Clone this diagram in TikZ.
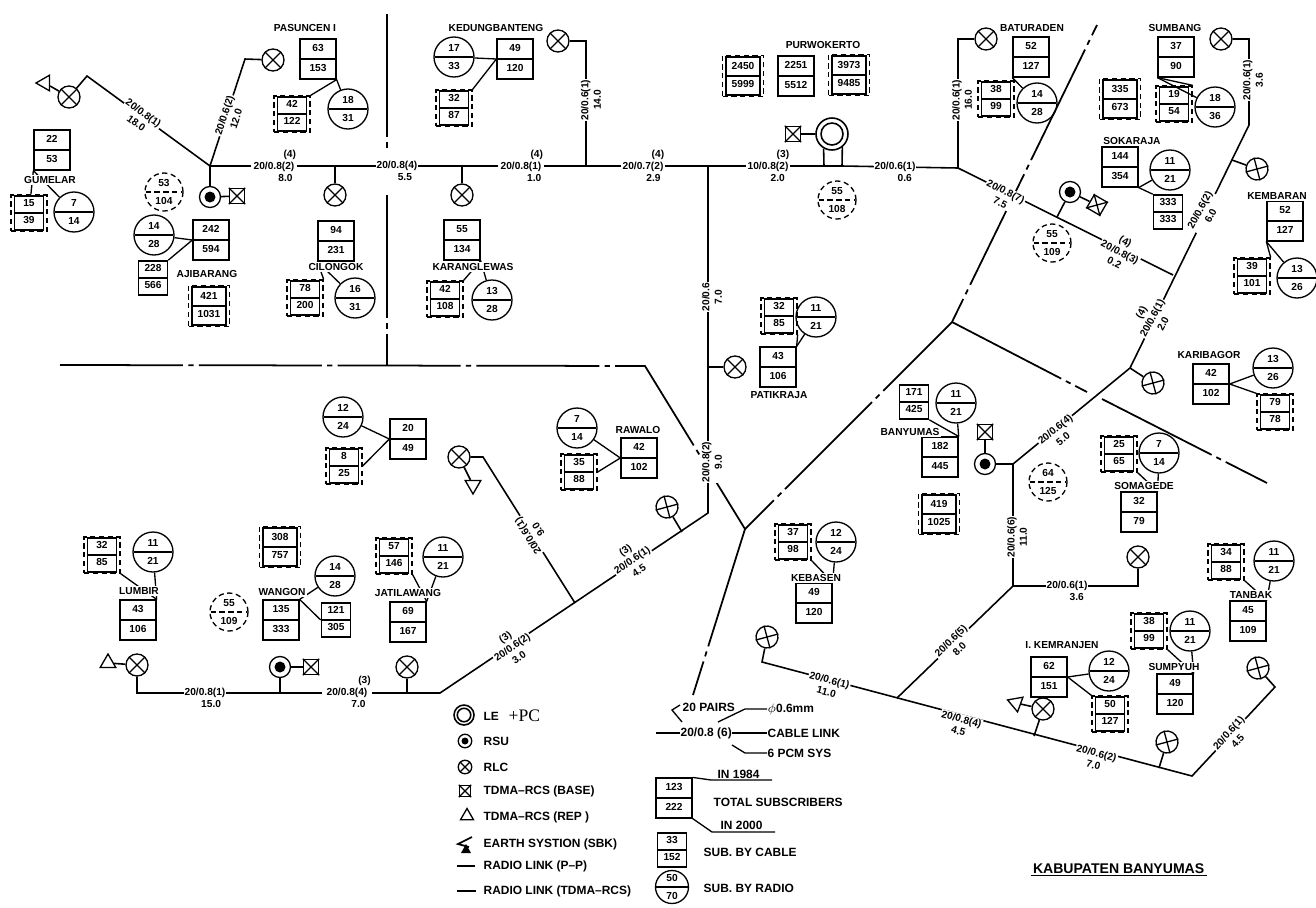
\documentclass[tikz,border=0pt]{standalone}
\usepackage{fontspec}
\setmainfont{Liberation Sans}
\newfontfamily\serifpc{Liberation Serif}
\usepackage{tikz}
\usetikzlibrary{shapes.geometric,shapes.multipart}
\newcommand{\upperpart}[1]{\rule[-2.6pt]{0pt}{7pt}#1}
\newcommand{\lowerpart}[1]{\rule[-1pt]{0pt}{8pt}#1}
\tikzset{
  numfont/.style={font=\bfseries\fontsize{5.8}{7}\selectfont},
  subbox/.style={numfont,draw,rectangle split,rectangle split parts=2,inner xsep=0pt,inner ysep=1.8pt,text width=.72cm,align=center},
  subsmall/.style={subbox,inner ysep=.9pt,text width=.58cm,line width=.9pt},
  sublarge/.style={subbox,inner ysep=1.5pt,text width=.68cm},
  dashouter/.style={draw,dash pattern=on 3pt off 2pt,minimum size=.72cm,inner sep=0pt},
  dashlarge/.style={dashouter,minimum size=.82cm},
  radiocirc/.style={numfont,draw,circle split,inner sep=0pt,minimum size=.8cm},
  lecirc/.style={radiocirc,dash pattern=on 3pt off 2pt,minimum size=.76cm},
  rlc/.style={draw,circle,inner sep=0pt,minimum size=.44cm},
  rsu/.style={draw,circle,inner sep=0pt,minimum size=.42cm},
  basesq/.style={draw,inner sep=0pt,minimum size=.3cm},
  rep/.style={draw,regular polygon,regular polygon sides=3,inner sep=0pt,minimum size=.36cm},
  placename/.style={numfont,fill=white,inner sep=.6pt},
  linklab/.style={numfont,fill=white,inner sep=.6pt,align=center},
  legtext/.style={font=\bfseries\fontsize{6.8}{8}\selectfont,anchor=west,inner sep=0pt},
  trunk/.style={line width=.9pt},
  boundary/.style={line width=1pt,dash pattern=on 70pt off 3pt on 3pt off 3pt},
}
\begin{document}
\begin{tikzpicture}[x=0.02cm,y=-0.02cm,line width=.75pt]
  \useasboundingbox (0,0) rectangle (1316,907);
  % total subscriber boxes
  \foreach \nm/\xx/\yy/\up/\lo in {pasbox/318/59/63/153,gumbox/52/150/22/53,ajibox/211/240/242/594,cilbox/336/241/94/231,
    klbox/462/240/55/134,kedbox/515/59/49/120,purbox/796/76/2251/5512,batbox/1031/57/52/127,sumbox/1176/57/37/90,
    sokbox/1120/167/144/354,kembox/1285/221/52/127,patbox/778/367/43/106,rawbox/639/458/42/102,grpbox/408/439/20/49,
    lumbox/138/620/43/106,wanbox/281/620/135/333,jatbox/408/622/69/167,kebbox/814/603/49/120,banbox/940/457/182/445,
    karbox/1211/384/42/102,sombox/1139/512/32/79,tanbox/1248/621/45/109,spybox/1175/694/49/120,kmrbox/1049/677/62/151,
    legbox/674/798/123/222}{
    \node[subbox] (\nm) at (\xx,\yy) {\strut\up\nodepart{two}\strut\lo};
  }
  % sub. by cable, no dashes
  \foreach \nm/\xx/\yy/\up/\lo in {ajicab/153/278/228/566,wancab/336/620/121/305,sokcab/1168/212/333/333,bancab/914/402/171/425,
    legcab/672/850/33/152}{
    \node[subsmall] (\nm) at (\xx,\yy) {\strut\up\nodepart{two}\strut\lo};
  }
  % sub. by cable inside a dashed frame
  \foreach \nm/\xx/\yy/\up/\lo in {gumdash/29/213/15/39,pasdash/292/114/42/122,cildash/305/298/78/200,kldash/445/299/42/108,
    keddash/454/108/32/87,batdash/996/99/38/99,sumdash/1174/104/19/54,kemdash/1252/276/39/101,patdash/779/316/32/85,
    rawdash/579/472/35/88,grpdash/344/466/8/25,lumdash/102/555/32/85,jatdash/394/556/57/146,kebdash/793/542/37/98,
    kardash/1275/412/79/78,somdash/1119/454/25/65,tandash/1226/562/34/88,spydash/1149/631/38/99,kmrdash/1110/714/50/127}{
    \node[dashouter] (\nm) at (\xx,\yy) {};
    \node[subsmall] at (\xx,\yy) {\strut\up\nodepart{two}\strut\lo};
  }
  \foreach \nm/\xx/\yy/\up/\lo in {ajilarge/209/306/421/1031,purlarge/743/76/2450/5999,purlargeb/849/75/3973/9485,
    sumlarge/1120/99/335/673,wanlarge/280/547/308/757,banlarge/939/514/419/1025}{
    \node[dashlarge] (\nm) at (\xx,\yy) {};
    \node[sublarge] at (\xx,\yy) {\strut\up\nodepart{two}\strut\lo};
  }
  % sub. by radio
  \foreach \nm/\xx/\yy/\up/\lo in {gumrad/74/212/7/14,pasrad/348/109/18/31,ajirad/154/235/14/28,cilrad/355/298/16/31,
    klrad/492/300/13/28,kedrad/454/57/17/33,batrad/1037/103/14/28,sumrad/1215/107/18/36,sokrad/1170/170/11/21,
    kemrad/1297/278/13/26,patrad/816/317/11/21,rawrad/577/428/7/14,grprad/343/417/12/24,lumrad/153/552/11/21,
    wanrad/335/576/14/28,jatrad/443/557/11/21,kebrad/836/542/12/24,banrad/956/403/11/21,karrad/1273/368/13/26,
    somrad/1159/453/7/14,tanrad/1274/561/11/21,spyrad/1190/631/11/21,kmrrad/1109/671/12/24}{
    \node[radiocirc] (\nm) at (\xx,\yy) {\upperpart{\up}\nodepart{lower}\lowerpart{\lo}};
  }
  \node[radiocirc,minimum size=.66cm] (legrad) at (672,887) {\upperpart{50}\nodepart{lower}\lowerpart{70}};
  % dashed LE circles
  \foreach \nm/\xx/\yy/\up/\lo in {lcaji/164/192/53/104,lcpur/837/200/55/108,lcsok/1052/243/55/109,lcwan/229/612/55/109,lcban/1048/482/64/125}{
    \node[lecirc] (\nm) at (\xx,\yy) {\upperpart{\up}\nodepart{lower}\lowerpart{\lo}};
  }
  % box to box and box to circle
  \foreach \from/\to in {gumbox.south west/gumdash,gumbox.south west/gumrad,pasbox.south east/pasdash.north east,pasbox.south east/pasrad,
    ajibox.west/ajirad,ajibox.west/ajicab.north east,cilbox.south west/cildash.north east,cilbox.south west/cilrad,
    klbox.south east/kldash.north east,klbox.south east/klrad,kedbox.west/kedrad,kedbox.west/keddash.north east,
    batbox.south west/batdash.north east,batbox.south west/batrad,sumbox.south west/sumdash.north east,sumbox.south west/sumrad,
    sokbox.south east/sokrad,sokbox.south east/sokcab.north west,kembox.south west/kemdash.north east,kembox.south west/kemrad,
    patbox.north east/patdash.south east,patbox.north east/patrad,rawbox.west/rawrad,rawbox.west/rawdash.east,
    grpbox.west/grprad,grpbox.west/grpdash.east,lumbox.north east/lumdash.south east,lumbox.north east/lumrad,
    wanbox.north east/wanrad,wanbox.north east/wancab.west,jatbox.north east/jatdash.south east,jatbox.north east/jatrad,
    kebbox.north east/kebdash.south east,kebbox.north east/kebrad,banbox.north east/bancab.south east,banbox.north east/banrad,
    karbox.east/karrad,karbox.east/kardash.north west,sombox.north east/somdash.south east,sombox.north east/somrad,
    tanbox.north east/tandash.south east,tanbox.north east/tanrad,spybox.north east/spydash.south east,spybox.north east/spyrad,
    kmrbox.east/kmrrad,kmrbox.east/kmrdash.north west}{
    \draw (\from) -- (\to);
  }
  % exchange symbols
  \node[draw,circle,minimum size=.64cm,inner sep=0pt,line width=.9pt] (lemain) at (832,134) {};
  \node[draw,circle,minimum size=.44cm,inner sep=0pt,line width=.9pt] at (832,134) {};
  \foreach \nm/\xx/\yy/\ang in {rlcgum/69/97/0,rlcpas/273/60/0,rlccil/335/195/0,rlckl/462/195/0,rlcked/558/41/0,rlcpat/735/367/0,
    rlclum/137/665/0,rlcjat/407/667/0,rlcgun/667/507/60,rlcrau/459/457/0,rlcbat/986/39/0,rlcsum/1221/39/0,rlckem/1257/169/60,
    rlckrb/1153/383/60,rlcsom/1138/557/0,rlckeb/767/637/60,rlcend/1258/668/60,rlcrep/1043/709/0,rlctam/1167/742/60}{
    \node[rlc,rotate=\ang] (\nm) at (\xx,\yy) {};
    \draw (\nm.north west) -- (\nm.south east) (\nm.north east) -- (\nm.south west);
  }
  \foreach \nm/\xx/\yy in {rsuaji/210/197,rsuwan/280/667,rsusok/1070/192,rsuban/985/464}{
    \node[rsu] (\nm) at (\xx,\yy) {};
    \fill (\nm) circle (5.5);
  }
  \foreach \nm/\xx/\yy/\ang in {baseaji/237/196/0,baselem/793/134/0,basewan/311/667/0,basesok/1097/205/-30,baseban/985/432/0}{
    \node[basesq,rotate=\ang] (\nm) at (\xx,\yy) {};
    \draw (\nm.north west) -- (\nm.south east) (\nm.north east) -- (\nm.south west);
  }
  \foreach \nm/\xx/\yy/\ang in {repgum/45/83/90,replum/108/663/0,reprau/473/485/180,reprep/1016/703/70}{
    \node[rep,rotate=\ang] (\nm) at (\xx,\yy) {};
  }
  % junctions and bends
  \foreach \nm/\xx/\yy in {jaji/210/166,bgum/87/76,bpas/245/59,jcil/335/166,jkl/462/166,jked/586/166,bked/586/41,jpat/708/166,
    jlel/824/166,jler/842/166,jbat/958/168,bbat/958/39,jkar/1173/275,bsum/1249/39,bsumb/1249/125,jkem/1232/160,jkrb/1130/368,
    jban/1013/464,jbanb/1013/586,bsom/1138/586,jkmr/897/698,bkeb/762/662,jrep/1034/736,jtam/1159/768,bend/1192/776,bendb/1275/687,
    jsok/1057/217,jpatr/708/367,bpat/708/513,jgun/682/532,jrau/575/603,brau/483/457,bbot/440/693,bbotb/137/693,jwan/280/693,jjat/407/693,
    bl1/387/14,bl1a/387/150,bl1b/387/195,bl2/387/365,bl3/60/365,bl4/645/366,bl5/745/529,bl6/952/322,bl7/1097/25,
    bl8/1267/483,bl8a/1087/392,bl8b/1102/399,bl9/693/695}{
    \coordinate (\nm) at (\xx,\yy);
  }
  % boundaries
  \draw[boundary] (bl1) -- (bl1a) (bl1b) -- (bl2);
  \draw[boundary] (bl3) -- (bl4) -- (bl5) -- (bl6) -- (bl7);
  \draw[boundary] (bl6) -- (bl8a) (bl8b) -- (bl8);
  \draw[boundary] (bl5) -- (bl9);
  % cable links
  \draw[trunk] (repgum) -- (rlcgum) -- (bgum) -- (jaji) -- (bpas) -- (rlcpas);
  \draw[trunk] (jaji) -- (rsuaji) -- (baseaji);
  \draw[trunk] (jaji) -- (jler) -- (jbat) -- (jkar);
  \draw[trunk] (jlel) -- (lemain.240) (jler) -- (lemain.-52) (lemain) -- (baselem);
  \draw[trunk] (jcil) -- (rlccil);
  \draw[trunk] (jkl) -- (rlckl);
  \draw[trunk] (jked) -- (bked) -- (rlcked);
  \draw[trunk] (jbat) -- (bbat) -- (rlcbat);
  \draw[trunk] (rlcsum) -- (bsum) -- (bsumb) -- (jkrb) -- (jban) -- (jbanb) -- (bsom) -- (rlcsom);
  \draw[trunk] (jkem) -- (rlckem);
  \draw[trunk] (jkrb) -- (rlckrb);
  \draw[trunk] (jban) -- (rsuban) -- (baseban);
  \draw[trunk] (jsok) -- (rsusok) -- (basesok);
  \draw[trunk] (jbanb) -- (jkmr);
  \draw[trunk] (rlckeb) -- (bkeb) -- (bend) -- (bendb) -- (rlcend);
  \draw[trunk] (jrep) -- (rlcrep) -- (reprep);
  \draw[trunk] (jtam) -- (rlctam);
  \draw[trunk] (jpat) -- (bpat) -- (bbot) -- (bbotb) -- (rlclum) -- (replum);
  \draw[trunk] (jpatr) -- (rlcpat);
  \draw[trunk] (jgun) -- (rlcgun);
  \draw[trunk] (jrau) -- (brau) -- (rlcrau) -- (reprau);
  \draw[trunk] (jwan) -- (rsuwan) -- (basewan);
  \draw[trunk] (jjat) -- (rlcjat);
  % link labels
  \node[linklab,rotate=-36] (lab1) at (140,118) {20/0.8(1)\\18.0};
  \node[linklab,rotate=72] (lab2) at (230,117) {20/0.6(2)\\12.0};
  \node[linklab] (lab3) at (274,166) {\hspace*{18pt}(4)\\20/0.8(2)\\\hspace*{13pt}8.0};
  \node[linklab] (lab4) at (397,171) {20/0.8(4)\\\hspace*{9pt}5.5};
  \node[linklab] (lab5) at (521,166) {\hspace*{18pt}(4)\\20/0.8(1)\\\hspace*{15pt}1.0};
  \node[linklab,rotate=90] (lab6) at (591,100) {20/0.6(1)\\14.0};
  \node[linklab] (lab7) at (643,166) {\hspace*{17pt}(4)\\20/0.7(2)\\\hspace*{12pt}2.9};
  \node[linklab] (lab8) at (768,166) {\hspace*{17pt}(3)\\10/0.8(2)\\\hspace*{11pt}2.0};
  \node[linklab] (lab9) at (895,172) {20/0.6(1)\\\hspace*{11pt}0.6};
  \node[linklab,rotate=90] (lab10) at (962,100) {20/0.6(1)\\16.0};
  \node[linklab,rotate=-27] (lab11) at (1003,197) {20/0.8(7)\\7.5};
  \node[linklab,rotate=-27] (lab12) at (1120,252) {(4)\\20/0.8(3)\\0.2};
  \node[linklab,rotate=90] (lab13) at (1253,80) {20/0.6(1)\\3.6};
  \node[linklab,rotate=62] (lab14) at (1205,213) {20/0.6(2)\\6.0};
  \node[linklab,rotate=62] (lab15) at (1152,318) {(4)\\20/0.6(1)\\2.0};
  \node[linklab,rotate=39] (lab16) at (1059,434) {20/0.6(4)\\5.0};
  \node[linklab,rotate=90] (lab17) at (1017,537) {20/0.6(6)\\11.0};
  \node[linklab] (lab18) at (1067,591) {20/0.6(1)\\\hspace*{11pt}3.6};
  \node[linklab,rotate=45] (lab19) at (955,645) {20/0.6(5)\\8.0};
  \node[linklab,rotate=-15] (lab20) at (828,686) {20/0.6(1)\\11.0};
  \node[linklab,rotate=-15] (lab21) at (960,725) {20/0.8(4)\\4.5};
  \node[linklab,rotate=-15] (lab22) at (1095,759) {20/0.6(2)\\7.0};
  \node[linklab,rotate=48] (lab23) at (1233,737) {20/0.6(1)\\4.5};
  \node[linklab,rotate=90] (lab24) at (712,297) {20/0.6\\7.0};
  \node[linklab,rotate=90] (lab25) at (712,462) {20/0.8(2)\\9.0};
  \node[linklab,rotate=34] (lab26) at (632,560) {(3)\\20/0.6(1)\\4.5};
  \node[linklab,rotate=34] (lab27) at (512,647) {(3)\\20/0.6(2)\\3.0};
  \node[linklab,rotate=122] (lab28) at (533,533) {20/0.6(1)\\9.0};
  \node[linklab] (lab29) at (205,698) {20/0.8(1)\\\hspace*{7pt}15.0};
  \node[linklab] (lab30) at (347,692) {\hspace*{20pt}(3)\\20/0.8(4)\\\hspace*{13pt}7.0};
  % place names
  \foreach \nm/\xx/\yy/\txt in {npas/305/28/PASUNCEN I,ngum/50/180/GUMELAR,naji/207/274/AJIBARANG,ncil/336/267/CILONGOK,
    nkl/473/267/KARANGLEWAS,nked/496/28/KEDUNGBANTENG,npur/823/45/PURWOKERTO,nbat/1032/28/BATURADEN,nsum/1175/28/SUMBANG,
    nsok/1132/141/SOKARAJA,nkem/1277/196/KEMBARAN,npat/779/395/PATIKRAJA,nraw/638/430/RAWALO,nlum/139/591/LUMBIR,
    nwan/282/592/WANGON,njat/408/593/JATILAWANG,nkeb/816/578/KEBASEN,nban/910/432/BANYUMAS,nkar/1209/355/KARIBAGOR,
    nsom/1144/486/SOMAGEDE,ntan/1251/595/TANBAK,nspy/1174/667/SUMPYUH,nkmr/1062/645/I. KEMRANJEN}{
    \node[placename] (\nm) at (\xx,\yy) {\txt};
  }
  \node[legtext,font=\bfseries\fontsize{8}{9}\selectfont] (title) at (1030,870) {\underline{\,KABUPATEN BANYUMAS\,}};
  % legend, symbols
  \node[draw,circle,minimum size=.4cm,inner sep=0pt,line width=.9pt] (legle) at (464,715) {};
  \node[draw,circle,minimum size=.27cm,inner sep=0pt,line width=.9pt] at (464,715) {};
  \node[rsu,minimum size=.27cm] (legrsu) at (465,741) {};
  \fill (legrsu) circle (3.5);
  \node[rlc,minimum size=.27cm] (legrlc) at (465,767) {};
  \draw (legrlc.north west) -- (legrlc.south east) (legrlc.north east) -- (legrlc.south west);
  \node[basesq,minimum size=.22cm] (legbase) at (465,791) {};
  \draw (legbase.north west) -- (legbase.south east) (legbase.north east) -- (legbase.south west);
  \node[rep,minimum size=.3cm] (legrep) at (467,816) {};
  \draw[line width=1pt] (472,837) -- (458,844) -- (469,847);
  \fill (466,844) -- (461,853) -- (471,853) -- cycle;
  \foreach \nm/\yy/\txt in {tle/716/LE,trsu/741/RSU,trlc/767/RLC,tbase/791/TDMA--RCS (BASE),trep/817/TDMA--RCS (REP ),
    tsbk/844/EARTH SYSTION (SBK),tpp/866/RADIO LINK (P--P),trcs/891/RADIO LINK (TDMA--RCS)}{
    \node[legtext] (\nm) at (483,\yy) {\txt};
  }
  \node[legtext,font=\serifpc\fontsize{10}{12}\selectfont] (tpc) at (508,716) {+PC};
  \coordinate (lppa) at (457,866); \draw[trunk] (lppa) -- ++(18,0);
  \coordinate (lrca) at (457,891); \draw (lrca) -- ++(19,0);
  % legend, cable link
  \node[legtext] (tpairs) at (682,707) {20 PAIRS};
  \node[legtext] (tlink) at (680,733) {20/0.8 (6)};
  \node[legtext] (tdia) at (767,709) {$\phi$0.6mm};
  \node[legtext] (tcab) at (767,733) {CABLE LINK};
  \node[legtext] (tpcm) at (767,753) {6 PCM SYS};
  \node[legtext] (t84) at (717,774) {IN 1984};
  \node[legtext] (ttot) at (713,802) {TOTAL SUBSCRIBERS};
  \node[legtext] (t20) at (720,825) {IN 2000};
  \node[legtext] (tbyc) at (703,852) {SUB. BY CABLE};
  \node[legtext] (tbyr) at (703,888) {SUB. BY RADIO};
  \foreach \nm/\xx/\yy in {la/680/705,lb/672/710,lc/682/722,ld/656/733,lf/718/722,lg/745/709,lh/732/745,li/745/753,
    lj/711/780,lk/772/780,ll/712/832,lm/775/832}{
    \coordinate (\nm) at (\xx,\yy);
  }
  \draw (la) -- (lb) -- (lc);
  \draw (ld) -- (tlink) (tlink) -- (tcab);
  \draw (lf) -- (lg) -- (tdia);
  \draw (lh) -- (li) -- (tpcm);
  \draw (legbox.north east) -- (lj) -- (lk);
  \draw (legbox.south east) -- (ll) -- (lm);
\end{tikzpicture}
\end{document}
